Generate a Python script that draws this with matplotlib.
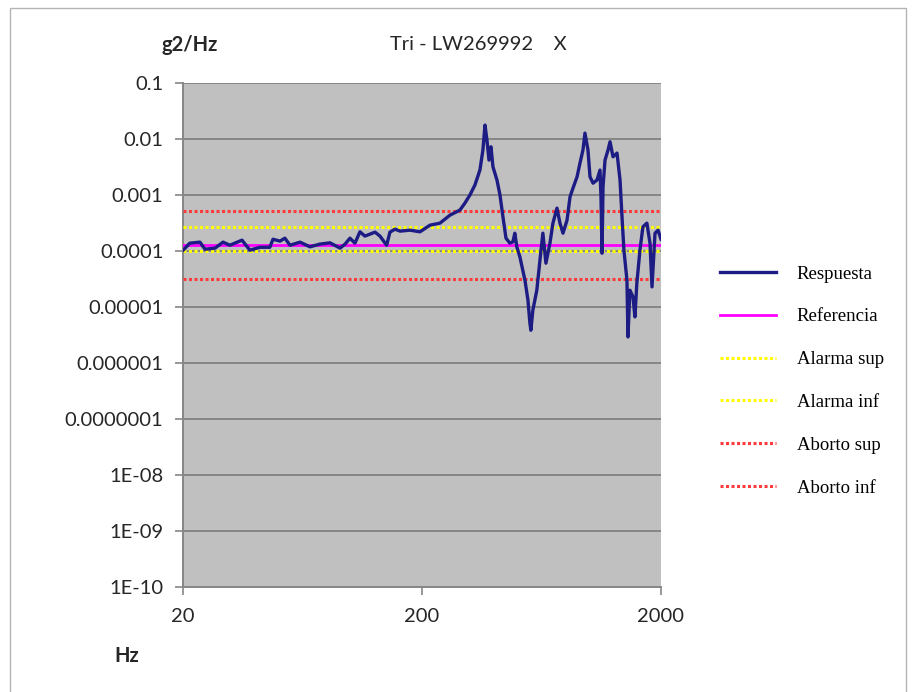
import matplotlib
matplotlib.use("Agg")
import matplotlib.pyplot as plt
from matplotlib.patches import Rectangle

# Measured PSD response (frequency in Hz, level in g2/Hz)
freq_hz = [
    20.1, 21.4, 23.6, 24.8, 27.3, 29.5, 31.5, 35.4, 38.2, 42.1,
    46.3, 47.7, 51.0, 53.5, 56.2, 61.9, 68.1, 75.0, 82.6, 91.0,
    95.5, 100.1, 105.0, 110.2, 115.6, 121.3, 127.4, 133.6, 142.5, 147.1,
    154.5, 162.2, 178.4, 196.4, 216.3, 238.2, 262.2, 288.5, 302.7, 317.6,
    333.3, 349.8, 360.0, 367.4, 374.3, 381.7, 389.1, 396.6, 412.2, 424.4,
    436.7, 449.6, 466.8, 480.6, 489.6, 499.0, 514.0, 539.7, 555.5, 566.1,
    571.4, 582.3, 605.0, 623.5, 641.3, 660.4, 686.5, 706.6, 734.6, 756.0,
    778.4, 809.2, 833.0, 857.3, 891.4, 916.7, 943.4, 961.7, 990.0, 1009.6,
    1039.5, 1080.0, 1111.6, 1122.3, 1133.5, 1144.5, 1166.8, 1200.9, 1224.4, 1260.0,
    1309.5, 1348.0, 1374.0, 1399.6, 1441.0, 1455.0, 1483.0, 1527.0, 1556.0, 1585.0,
    1633.0, 1680.0, 1746.0, 1799.0, 1834.0, 1888.0, 1944.0, 2000.0,
]
respuesta = [
    1.02e-4, 1.36e-4, 1.42e-4, 1.06e-4, 1.11e-4, 1.42e-4, 1.25e-4, 1.54e-4, 1.02e-4, 1.15e-4,
    1.15e-4, 1.60e-4, 1.48e-4, 1.67e-4, 1.25e-4, 1.42e-4, 1.17e-4, 1.31e-4, 1.38e-4, 1.11e-4,
    1.31e-4, 1.67e-4, 1.36e-4, 2.17e-4, 1.82e-4, 1.97e-4, 2.14e-4, 1.82e-4, 1.25e-4, 2.14e-4,
    2.42e-4, 2.23e-4, 2.32e-4, 2.17e-4, 2.85e-4, 3.10e-4, 4.30e-4, 5.29e-4, 7.05e-4, 9.80e-4,
    1.48e-3, 2.74e-3, 6.23e-3, 1.74e-2, 9.40e-3, 4.13e-3, 7.14e-3, 3.13e-3, 1.82e-3, 9.80e-4,
    4.00e-4, 1.67e-4, 1.36e-4, 1.44e-4, 2.05e-4, 1.17e-4, 7.75e-5, 2.97e-5, 1.31e-5, 5.07e-6,
    3.80e-6, 8.66e-6, 1.97e-5, 6.76e-5, 2.05e-4, 5.98e-5, 1.36e-4, 3.10e-4, 5.74e-4, 3.10e-4,
    2.05e-4, 3.50e-4, 9.14e-4, 1.31e-3, 2.08e-3, 3.65e-3, 6.23e-3, 1.25e-2, 6.23e-3, 2.08e-3,
    1.60e-3, 1.82e-3, 2.74e-3, 9.14e-4, 9.00e-5, 1.38e-3, 4.13e-3, 6.23e-3, 8.77e-3, 4.73e-3,
    5.51e-3, 1.82e-3, 4.00e-4, 1.02e-4, 2.97e-5, 2.89e-6, 1.97e-5, 1.50e-5, 6.58e-6, 2.63e-5,
    1.02e-4, 2.66e-4, 3.10e-4, 1.36e-4, 2.26e-5, 2.05e-4, 2.32e-4, 1.60e-4,
]

# Reference profile and tolerance bands
referencia = 1.25e-4
alarma_sup = 2.6e-4
alarma_inf = 1.0e-4
aborto_sup = 5.0e-4
aborto_inf = 3.125e-5

x_limits = [20, 2000]
y_limits = [1e-10, 0.1]
x_ticks = [20, 200, 2000]
x_tick_labels = ["20", "200", "2000"]
y_ticks = [1e-1, 1e-2, 1e-3, 1e-4, 1e-5, 1e-6, 1e-7, 1e-8, 1e-9, 1e-10]
y_tick_labels = ["0.1", "0.01", "0.001", "0.0001", "0.00001", "0.000001",
                 "0.0000001", "1E-08", "1E-09", "1E-10"]

titulo = "Tri - LW269992    X"
etiqueta_y = "g2/Hz"
etiqueta_x = "Hz"
leyenda = ["Respuesta", "Referencia", "Alarma sup", "Alarma inf", "Aborto sup", "Aborto inf"]

W, H = 916, 692
sans = ["Lato", "DejaVu Sans"]
serif = ["Liberation Serif", "DejaVu Serif"]
txt_color = "#262626"
grid_color = "#868686"

fig = plt.figure(figsize=(W / 100, H / 100), dpi=100)
fig.patch.set_facecolor("white")

# thin frame around the whole chart area
fig.patches.append(Rectangle((10 / W, -0.01), (906 - 10) / W, 1.01 - 8 / H,
                             transform=fig.transFigure, fill=False,
                             ec="#B4B4B4", lw=1.0))

left, right, top, bottom = 182.7, 661.0, 82.5, 587.0
ax = fig.add_axes([left / W, 1 - bottom / H, (right - left) / W, (bottom - top) / H])
ax.set_facecolor("#C0C0C0")
ax.set_xscale("log")
ax.set_yscale("log")
ax.set_xlim(*x_limits)
ax.set_ylim(*y_limits)

ax.set_yticks(y_ticks)
ax.set_yticklabels(y_tick_labels)
ax.set_xticks(x_ticks)
ax.set_xticklabels(x_tick_labels)
ax.minorticks_off()
ax.tick_params(axis="both", colors=grid_color, labelcolor=txt_color,
               length=6, width=1.2, labelsize=14.5)
ax.tick_params(axis="y", pad=8)
ax.tick_params(axis="x", pad=9)
for lab in ax.get_xticklabels() + ax.get_yticklabels():
    lab.set_fontfamily(sans)

ax.yaxis.grid(True, color=grid_color, lw=1.4)
ax.xaxis.grid(False)
ax.set_axisbelow(True)
for side in ("top", "right"):
    ax.spines[side].set_visible(False)
for side in ("left", "bottom"):
    ax.spines[side].set_color(grid_color)
    ax.spines[side].set_linewidth(1.4)

dots = (0, (1.0, 0.8))
l_resp, = ax.plot(freq_hz, respuesta, color="#1C1C84", lw=2.4, solid_joinstyle="round", zorder=5)
l_ref = ax.axhline(referencia, color="#FF00FF", lw=2.0, zorder=4)
l_as = ax.axhline(alarma_sup, color="#FFFF00", lw=2.2, ls=dots, zorder=3)
l_ai = ax.axhline(alarma_inf, color="#FFFF00", lw=2.2, ls=dots, zorder=3)
l_bs = ax.axhline(aborto_sup, color="#FF3B3B", lw=2.2, ls=dots, zorder=3)
l_bi = ax.axhline(aborto_inf, color="#FF3B3B", lw=2.2, ls=dots, zorder=3)

ax.legend([l_resp, l_ref, l_as, l_ai, l_bs, l_bi], leyenda,
          loc="center left", bbox_to_anchor=(720 / W, 1 - 381 / H),
          bbox_transform=fig.transFigure, frameon=False,
          prop={"family": serif, "size": 13.5},
          handlelength=3.0, handletextpad=1.1, labelspacing=1.37,
          borderpad=0, borderaxespad=0)

fig.text(478 / W, 1 - 45 / H, titulo, ha="center", va="center",
         fontsize=14.5, family=sans, color=txt_color)
fig.text(190 / W, 1 - 45 / H, etiqueta_y, ha="center", va="center",
         fontsize=14.5, family=sans, weight="bold", color=txt_color)
fig.text(127 / W, 1 - 656 / H, etiqueta_x, ha="center", va="center",
         fontsize=14.5, family=sans, weight="bold", color=txt_color)

fig.savefig("out.png", dpi=100, facecolor="white")
